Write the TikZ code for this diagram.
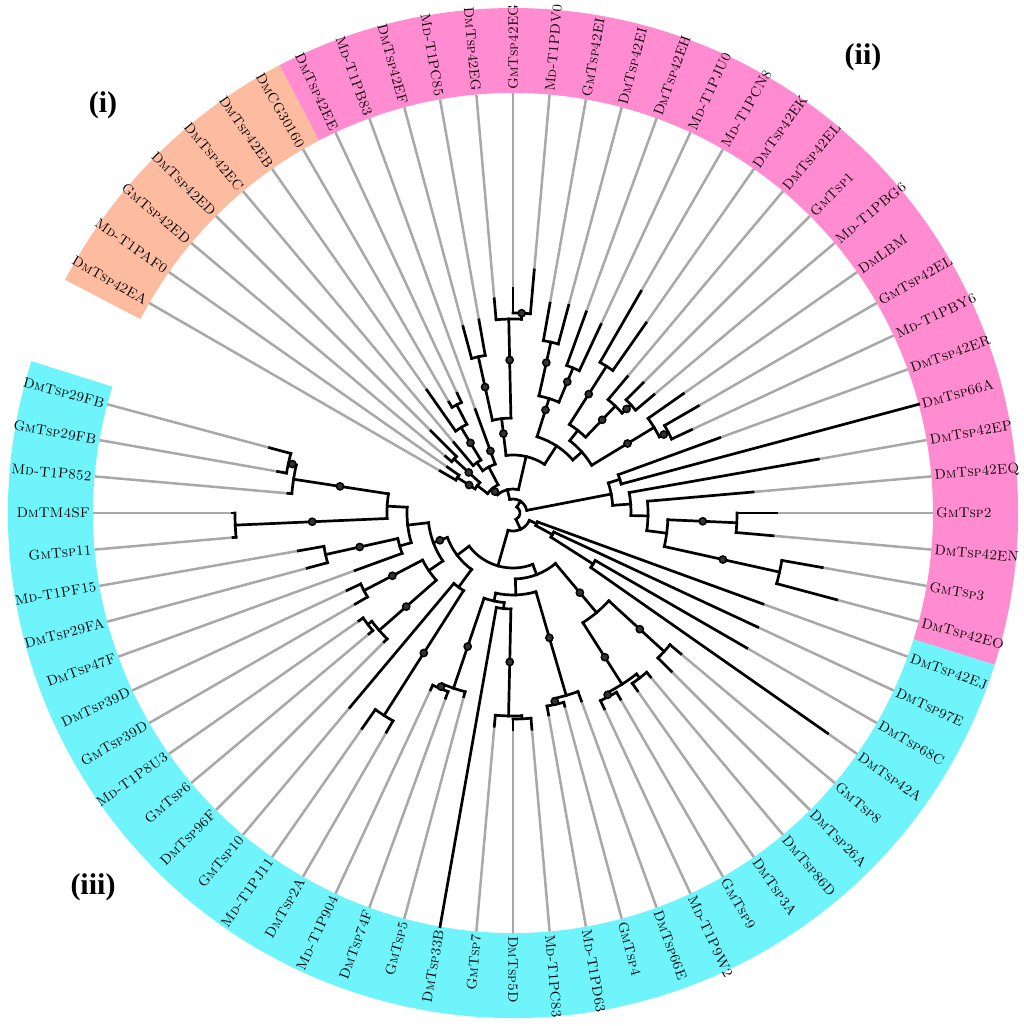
\documentclass[tikz,border=0pt]{standalone}
\usepackage{fontspec}
\newfontfamily\romanb{Liberation Serif}
\definecolor{bandO}{RGB}{253,187,160}
\definecolor{bandP}{RGB}{255,139,208}
\definecolor{bandC}{RGB}{111,244,251}
\definecolor{greyL}{RGB}{168,168,168}
\pgfdeclarelayer{bg}
\pgfdeclarelayer{mid}
\pgfsetlayers{bg,mid,main}
\tikzset{
  br/.style={line width=2.7pt, black, line cap=rect},
  gr/.style={line width=2.5pt, greyL},
  lab/.style={inner sep=0pt, font=\fontsize{14}{15}\selectfont\scshape, text=black},
  dotst/.style={line width=1.5pt, draw=black, fill=black!80},
  clade/.style={font=\romanb\bfseries\fontsize{30}{32}\selectfont}
}
\newcommand\A[1]{\csname a@#1\endcsname}
\newcommand\inode[5]{%
  \pgfmathsetmacro\mymid{(#2+#3)/2}%
  \expandafter\xdef\csname a@#1\endcsname{\mymid}%
  \draw[br] (#2:#4pt) arc[start angle=#2, end angle=#3, radius=#4pt];
  \coordinate (#1) at (\mymid:#4pt);
  \coordinate (#1s) at (\mymid:#5pt);
  \draw[br] (#1s) -- (#1);
}
\newcommand\leaf[4]{%
  \pgfmathsetmacro\myang{150-5*#1}%
  \coordinate (p#1) at (\myang:#4pt);
  \coordinate (t#1) at (\myang:#3pt);
  \coordinate (r#1) at (\myang:420pt);
  \draw[br] (p#1) -- (t#1);
  \ifdim #3pt<419pt \begin{pgfonlayer}{mid}\draw[gr] (t#1) -- (r#1);\end{pgfonlayer}\fi
  \pgfmathtruncatemacro\isleft{cos(\myang)<-0.01 ? 1 : 0}%
  \ifnum\isleft=1
    \pgfmathsetmacro\myrot{\myang+180}%
    \node[lab,anchor=east,rotate=\myrot] (L#1) at (\myang:423pt) {#2};
  \else
    \node[lab,anchor=west,rotate=\myang] (L#1) at (\myang:423pt) {#2};
  \fi
}
\newcommand\dt[2]{\draw[dotst] (#1:#2pt) circle[radius=3.6pt];}
\newcommand\band[3]{%
  \fill[#1] (#2:420pt) arc[start angle=#2, end angle=#3, radius=420pt]
    -- (#3:505pt) arc[start angle=#3, end angle=#2, radius=505pt] -- cycle;}
\begin{document}
\begin{tikzpicture}[x=1pt,y=1pt]
\useasboundingbox (-513,-513) rectangle (511,513);
\begin{pgfonlayer}{bg}
\band{bandO}{152.5}{117.5}
\band{bandP}{117.5}{-17.5}
\band{bandC}{-17.5}{-197.5}
\end{pgfonlayer}
% ---------- internal nodes ----------
% clade A
\inode{n01}{150}{145}{66}{45}
\inode{n23}{140}{135}{80}{45}
\inode{nA1}{\A{n01}}{\A{n23}}{45}{32}
\inode{n67}{120}{115}{122}{100}
\inode{n57}{125}{\A{n67}}{100}{62}
\inode{n47}{130}{\A{n57}}{62}{52}
\inode{nA2}{\A{n47}}{110}{52}{32}
\inode{nA}{\A{nA1}}{\A{nA2}}{32}{24}
% clade B
\inode{n1213}{90}{85}{200}{194}
\inode{n1113}{95}{\A{n1213}}{194}{95}
\inode{n910}{105}{100}{160}{95}
\inode{nB}{\A{n910}}{\A{n1113}}{95}{58}
% clade C
\inode{n1415}{80}{75}{175}{120}
\inode{n1617}{70}{65}{157}{120}
\inode{nC}{\A{n1415}}{\A{n1617}}{120}{80}
% clade D
\inode{n1819}{60}{55}{174}{105}
\inode{n2122}{45}{40}{160}{148}
\inode{n2022}{50}{\A{n2122}}{148}{105}
\inode{nD1}{\A{n1819}}{\A{n2022}}{105}{92}
\inode{n2425}{30}{25}{175}{165}
\inode{n2325}{35}{\A{n2425}}{165}{92}
\inode{nD}{\A{nD1}}{\A{n2325}}{92}{80}
\inode{nCD}{\A{nC}}{\A{nD}}{80}{58}
\inode{nBCD}{\A{nB}}{\A{nCD}}{58}{24}
\inode{nABCD}{\A{nA}}{\A{nBCD}}{24}{14}
% clade E
\inode{n2627}{20}{15}{112}{100}
\inode{n3031}{0}{-5}{224}{155}
\inode{n3233}{-10}{-15}{273}{155}
\inode{nE1}{\A{n3031}}{\A{n3233}}{155}{135}
\inode{nE2}{5}{\A{nE1}}{135}{118}
\inode{nE3}{10}{\A{nE2}}{118}{100}
\inode{nE}{\A{n2627}}{\A{nE3}}{100}{14}
\inode{nAE}{\A{nABCD}}{\A{nE}}{14}{7}
% lower clades
\inode{n3637}{-30}{-35}{95}{45}
\inode{n3537}{-25}{\A{n3637}}{45}{26}
\inode{n3437}{-20}{\A{n3537}}{26}{18}
\inode{n3839}{-40}{-45}{205}{130}
\inode{n4041}{-50}{-55}{208}{203}
\inode{n4243}{-60}{-65}{207}{203}
\inode{n4043}{\A{n4041}}{\A{n4243}}{203}{130}
\inode{nR}{\A{n3839}}{\A{n4043}}{130}{66}
\inode{n4546}{-75}{-80}{196}{190}
\inode{n4446}{-70}{\A{n4546}}{190}{82}
\inode{n4748}{-85}{-90}{206}{203}
\inode{n4749}{\A{n4748}}{-95}{203}{96}
\inode{nP1}{\A{n4749}}{-100}{96}{90}
\inode{n5253}{-110}{-115}{190}{185}
\inode{n5153}{-105}{\A{n5253}}{185}{90}
\inode{nP2}{\A{nP1}}{\A{n5153}}{90}{82}
\inode{nPQ}{\A{n4446}}{\A{nP2}}{82}{66}
\inode{nPQR}{\A{nR}}{\A{nPQ}}{66}{55}
\inode{n5455}{-120}{-125}{240}{92}
\inode{nN}{\A{n5455}}{-130}{92}{70}
\inode{n5859}{-140}{-145}{183}{178}
\inode{n5759}{-135}{\A{n5859}}{178}{102}
\inode{n6061}{-150}{-155}{168}{102}
\inode{nM}{\A{n5759}}{\A{n6061}}{102}{85}
\inode{n6364}{-165}{-170}{192}{118}
\inode{n6264}{-160}{\A{n6364}}{118}{106}
\inode{n6566}{-175}{-180}{278}{126}
\inode{n6869}{-190}{-195}{230}{222}
\inode{n6769}{-185}{\A{n6869}}{222}{126}
\inode{nL1}{\A{n6566}}{\A{n6769}}{126}{106}
\inode{nL2}{\A{n6264}}{\A{nL1}}{106}{85}
\inode{nLM}{\A{nM}}{\A{nL2}}{85}{70}
\inode{nLMN}{\A{nN}}{\A{nLM}}{70}{55}
\inode{nLow1}{\A{nPQR}}{\A{nLMN}}{55}{18}
\inode{nLow}{\A{n3437}}{\A{nLow1}}{18}{7}
\draw[br] (\A{nAE}:7pt) arc[start angle=\A{nAE}, end angle=\A{nLow}, radius=7pt];
% ---------- leaves ----------
\leaf{0}{DmTsp42EA}{84}{66}
\leaf{1}{Md-T1PAF0}{80}{66}
\leaf{2}{GmTsp42ED}{88}{80}
\leaf{3}{DmTsp42ED}{116}{80}
\leaf{4}{DmTsp42EC}{92}{62}
\leaf{5}{DmTsp42EB}{150}{100}
\leaf{6}{DmCG30160}{128}{122}
\leaf{7}{DmTsp42EE}{132}{122}
\leaf{8}{Md-T1PB83}{110}{52}
\leaf{9}{DmTsp42EF}{193}{160}
\leaf{10}{Md-T1PC85}{196}{160}
\leaf{11}{DmTsp42EG}{215}{194}
\leaf{12}{GmTsp42EG}{225}{200}
\leaf{13}{Md-T1PDV0}{244}{200}
\leaf{14}{GmTsp42EI}{213}{175}
\leaf{15}{DmTsp42EI}{215}{175}
\leaf{16}{DmTsp42EH}{214}{157}
\leaf{17}{Md-T1PJU0}{208}{157}
\leaf{18}{Md-T1PCN8}{256}{174}
\leaf{19}{DmTsp42EK}{232}{174}
\leaf{20}{DmTsp42EL}{178}{148}
\leaf{21}{GmTsp1}{184}{160}
\leaf{22}{Md-T1PBG6}{184}{160}
\leaf{23}{DmLBM}{208}{165}
\leaf{24}{GmTsp42EL}{214}{175}
\leaf{25}{Md-T1PBY6}{197}{175}
\leaf{26}{DmTsp42ER}{220}{112}
\leaf{27}{DmTsp66A}{420}{112}
\leaf{28}{DmTsp42EP}{310}{118}
\leaf{29}{DmTsp42EQ}{241}{135}
\leaf{30}{GmTsp2}{264}{224}
\leaf{31}{DmTsp42EN}{261}{224}
\leaf{32}{GmTsp3}{314}{273}
\leaf{33}{DmTsp42EO}{335}{273}
\leaf{34}{DmTsp42EJ}{266}{26}
\leaf{35}{DmTsp97E}{270}{45}
\leaf{36}{DmTsp68C}{270}{95}
\leaf{37}{DmTsp42A}{384}{95}
\leaf{38}{GmTsp8}{219}{205}
\leaf{39}{DmTsp26A}{224}{205}
\leaf{40}{DmTsp86D}{214}{208}
\leaf{41}{DmTsp3A}{217}{208}
\leaf{42}{GmTsp9}{215}{207}
\leaf{43}{Md-T1P9W2}{216}{207}
\leaf{44}{DmTsp66E}{200}{190}
\leaf{45}{GmTsp4}{200}{196}
\leaf{46}{Md-T1PD63}{205}{196}
\leaf{47}{Md-T1PC83}{217}{206}
\leaf{48}{DmTsp5D}{217}{206}
\leaf{49}{GmTsp7}{214}{203}
\leaf{50}{DmTsp33B}{420}{96}
\leaf{51}{GmTsp5}{190}{185}
\leaf{52}{DmTsp74F}{197}{190}
\leaf{53}{Md-T1P904}{195}{190}
\leaf{54}{DmTsp2A}{253}{240}
\leaf{55}{Md-T1PJ11}{263}{240}
\leaf{56}{GmTsp10}{254}{92}
\leaf{57}{DmTsp96F}{182}{178}
\leaf{58}{GmTsp6}{188}{183}
\leaf{59}{Md-T1P8U3}{188}{183}
\leaf{60}{GmTsp39D}{182}{168}
\leaf{61}{DmTsp39D}{183}{168}
\leaf{62}{DmTsp47F}{168}{118}
\leaf{63}{DmTsp29FA}{213}{192}
\leaf{64}{Md-T1PF15}{218}{192}
\leaf{65}{GmTsp11}{281}{278}
\leaf{66}{DmTM4SF}{281}{278}
\leaf{67}{Md-T1P852}{226}{222}
\leaf{68}{GmTsp29FB}{239}{230}
\leaf{69}{DmTsp29FB}{252}{230}
% ---------- node markers ----------
\dt{147.5}{52}
\dt{137.5}{60}
\dt{121.25}{82}
\dt{110}{66}
\dt{\A{nA}}{28}
\dt{\A{n1113}}{153}
\dt{\A{n910}}{129}
\dt{\A{nB}}{80}
\dt{\A{n1213}}{200}
\dt{\A{n1415}}{154}
\dt{\A{n1617}}{142}
\dt{\A{nC}}{108}
\dt{\A{n1819}}{141}
\dt{\A{n2022}}{129}
\dt{\A{n2122}}{154}
\dt{\A{n2325}}{134}
\dt{\A{n2425}}{170}
\dt{\A{n3031}}{190}
\dt{\A{n3233}}{215}
\dt{\A{nR}}{104}
\dt{\A{n3839}}{172}
\dt{\A{n4043}}{171}
\dt{\A{n4243}}{205}
\dt{\A{n4446}}{130}
\dt{\A{n4546}}{193}
\dt{\A{n4749}}{149}
\dt{\A{n5153}}{141}
\dt{\A{n5253}}{188}
\dt{\A{n5455}}{166}
\dt{\A{n5759}}{142}
\dt{\A{n6061}}{136}
\dt{\A{n6364}}{157}
\dt{\A{n6566}}{201}
\dt{\A{n6769}}{175}
\dt{\A{n6869}}{226}
\dt{\A{nLM}}{78}
% ---------- clade labels ----------
\node[clade] (ci) at (-410,408) {(i)};
\node[clade] (cii) at (350,456) {(ii)};
\node[clade] (ciii) at (-420,-374) {(iii)};
\end{tikzpicture}
\end{document}
